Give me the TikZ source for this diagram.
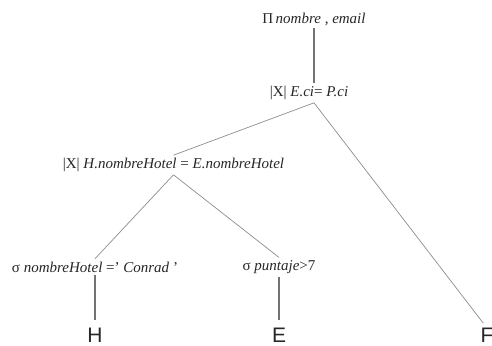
\documentclass[tikz,border=0pt]{standalone}
\usepackage{fontspec}
\setmainfont{Liberation Serif}
\newfontfamily\arialf{Liberation Sans}
\begin{document}
\begin{tikzpicture}[x=1pt,y=-1pt,
  expr/.style={inner sep=0pt, outer sep=3pt, font=\fontsize{15}{18}\selectfont, text=black!85},
  rel/.style={inner sep=0pt, outer sep=0pt, font=\arialf\fontsize{21}{24}\selectfont, text=black!85, anchor=north},
  vline/.style={draw=black!55, line width=1.3pt},
  dline/.style={draw=black!45, line width=0.7pt}]
\useasboundingbox (0,0) rectangle (492,345);
\node[expr] (top) at (314,19) {Π\,\textit{nombre , email}};
\node[expr] (j1) at (309,93) {|X| \textit{E.ci}= \textit{P.ci}};
\node[expr] (j2) at (173.5,165) {|X| \textit{H.nombreHotel} = \textit{E.nombreHotel}};
\node[expr] (s1) at (95,267) {σ \textit{nombreHotel} =' \textit{Conrad} '};
\node[expr] (s2) at (279,267) {σ \textit{puntaje}>7};
\node[rel] (H) at (95,328) {H};
\node[rel] (E) at (279,328) {E};
\node[rel] (F) at (487,328) {F};
\draw[vline] (top.south) -- (top.south |- j1.north);
\draw[dline] ([xshift=5pt]j1.south) -- (j2.north);
\draw[dline, shorten >=6pt] ([xshift=5pt]j1.south) -- (F.north);
\draw[dline] (j2.south) -- (s1.north);
\draw[dline] (j2.south) -- (s2.north);
\draw[vline, shorten >=8pt] (s1.south) -- (H.north);
\draw[vline, shorten >=8pt] (s2.south) -- (E.north);
\end{tikzpicture}
\end{document}
